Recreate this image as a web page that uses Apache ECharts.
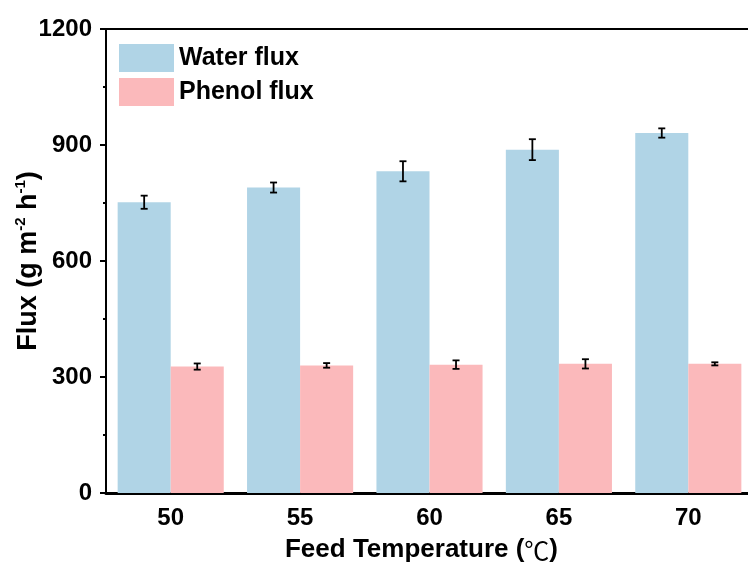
<!DOCTYPE html>
<html>
<head>
<meta charset="utf-8">
<script src="https://cdn.jsdelivr.net/npm/echarts@6/dist/echarts.min.js"></script>
<style>
  html, body { margin: 0; padding: 0; background: #fff; }
  #chart { width: 748px; height: 562px; }
</style>
</head>
<body>
<div id="chart"></div>
<script>
// Feed temperature categories (°C)
const temperatures = ['50', '55', '60', '65', '70'];
// Water flux mean and error (g m-2 h-1)
const waterFlux = [752, 790, 832, 888, 931];
const waterErr = [17, 13, 26, 27, 12];
// Phenol flux mean and error (g m-2 h-1)
const phenolFlux = [327, 330, 332, 334, 334];
const phenolErr = [8, 6, 11, 12, 4];
// Y-axis ticks
const yTicks = [0, 300, 600, 900, 1200];

const FONT = "'Liberation Sans', Arial, sans-serif";
const WATER_COLOR = '#B0D4E6';
const PHENOL_COLOR = '#FBB9BB';

// Bars use 18% category gap and touch each other, so each bar is 41% of the band.
const BAR_FRAC = 0.41;

function errorBars(means, errs, side) {
  return {
    type: 'custom',
    z: 10,
    silent: true,
    data: means.map((m, i) => [i, m - errs[i], m + errs[i]]),
    renderItem: function (params, api) {
      const idx = api.value(0);
      const band = api.size([1, 0])[0];
      const off = side * band * BAR_FRAC / 2;
      const lo = api.coord([idx, api.value(1)]);
      const hi = api.coord([idx, api.value(2)]);
      const x = lo[0] + off;
      const cap = 3.5;
      const style = { stroke: '#000', lineWidth: 1.8 };
      return {
        type: 'group',
        children: [
          { type: 'line', shape: { x1: x, y1: lo[1], x2: x, y2: hi[1] }, style },
          { type: 'line', shape: { x1: x - cap, y1: lo[1], x2: x + cap, y2: lo[1] }, style },
          { type: 'line', shape: { x1: x - cap, y1: hi[1], x2: x + cap, y2: hi[1] }, style }
        ]
      };
    }
  };
}

const chart = echarts.init(document.getElementById('chart'), null, { renderer: 'canvas' });

chart.setOption({
  animation: false,
  backgroundColor: '#fff',
  textStyle: { fontFamily: FONT },
  grid: { left: 106, top: 29, width: 647, height: 464, containLabel: false, outerBoundsMode: 'none' },
  legend: {
    data: ['Water flux', 'Phenol flux'],
    orient: 'vertical',
    left: 114,
    top: 39,
    itemWidth: 55,
    itemHeight: 28,
    itemGap: 6,
    icon: 'rect',
    textStyle: { fontFamily: FONT, fontWeight: 'bold', fontSize: 25, color: '#000' }
  },
  xAxis: [
    {
      type: 'category',
      data: temperatures,
      name: 'Feed Temperature ({c|℃})',
      nameLocation: 'middle',
      nameGap: 44,
      nameMoveOverlap: false,
      nameTextStyle: {
        fontFamily: FONT, fontWeight: 'bold', fontSize: 26, color: '#000',
        padding: [0, 16, 0, 0],
        rich: {
          c: { fontFamily: "'Noto Sans CJK SC', sans-serif", fontWeight: 'normal', fontSize: 25, color: '#000' }
        }
      },
      axisLine: { lineStyle: { color: '#000', width: 3 } },
      axisTick: { alignWithLabel: true, length: 5, lineStyle: { color: '#000', width: 2 } },
      axisLabel: { fontFamily: FONT, fontWeight: 'bold', fontSize: 24, color: '#000', margin: 13 },
      splitLine: { show: false }
    },
    {
      type: 'category',
      data: temperatures,
      position: 'top',
      axisLine: { lineStyle: { color: '#000', width: 2 } },
      axisTick: { show: false },
      axisLabel: { show: false },
      splitLine: { show: false }
    }
  ],
  yAxis: {
    type: 'value',
    min: yTicks[0],
    max: yTicks[yTicks.length - 1],
    interval: yTicks[1] - yTicks[0],
    name: '{n|Flux (g m}{s|-2}{n| h}{s|-1}{n|)}',
    nameLocation: 'middle',
    nameGap: 61,
    nameRotate: 90,
    nameMoveOverlap: false,
    nameTextStyle: {
      rich: {
        n: { fontFamily: FONT, fontWeight: 'bold', fontSize: 27, color: '#000', lineHeight: 32 },
        s: { fontFamily: FONT, fontWeight: 'bold', fontSize: 15, color: '#000', lineHeight: 32, verticalAlign: 'top', padding: [0, 0, 10, 0] }
      }
    },
    axisLine: { show: true, lineStyle: { color: '#000', width: 2 } },
    axisTick: { show: true, length: 6, lineStyle: { color: '#000', width: 2 } },
    minorTick: { show: true, splitNumber: 2, length: 3, lineStyle: { color: '#000', width: 2 } },
    axisLabel: {
      fontFamily: FONT, fontWeight: 'bold', fontSize: 24, color: '#000', margin: 14,
      formatter: v => String(v)
    },
    splitLine: { show: false }
  },
  series: [
    {
      name: 'Water flux',
      type: 'bar',
      data: waterFlux,
      barGap: '0%',
      barCategoryGap: '18%',
      itemStyle: { color: WATER_COLOR }
    },
    {
      name: 'Phenol flux',
      type: 'bar',
      data: phenolFlux,
      barGap: '0%',
      barCategoryGap: '18%',
      itemStyle: { color: PHENOL_COLOR }
    },
    errorBars(waterFlux, waterErr, -1),
    errorBars(phenolFlux, phenolErr, 1)
  ]
});
</script>
</body>
</html>
